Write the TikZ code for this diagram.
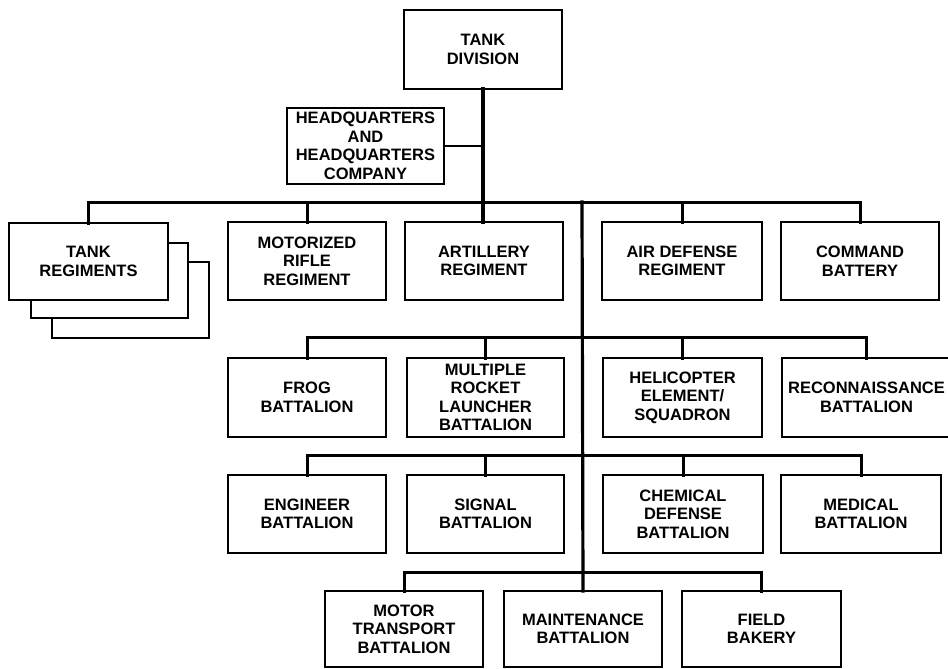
\documentclass[tikz,border=0pt]{standalone}
\usepackage{fontspec}
\setmainfont{Liberation Sans}
\begin{document}
\begin{tikzpicture}[x=1pt,y=-1pt,
  unit/.style={draw=black,line width=2.2pt,fill=white,inner sep=0pt,outer sep=0pt,
    align=center,font=\fontsize{16.5}{18.5}\selectfont\bfseries},
  link/.style={line width=3pt,line cap=rect},
  thin link/.style={line width=2.2pt}]
\useasboundingbox[fill=white] (0,0) rectangle (948,669);
\newcommand{\bx}[6]{\node[unit,minimum width={#4-#2},minimum height={#5-#3}] (#1) at ({(#2+#4)/2},{(#3+#5)/2}) {#6};}
% top
\bx{td}{404}{10}{562}{89}{TANK\\DIVISION}
\bx{hq}{287}{108}{444}{184}{HEADQUARTERS\\AND\\HEADQUARTERS\\COMPANY}
% level 1
\bx{tr3}{52}{262}{209}{338}{}
\bx{tr2}{31}{243}{188}{318}{}
\bx{tr}{9}{223}{168}{300}{TANK\\REGIMENTS}
\bx{mr}{228}{222}{386}{300}{MOTORIZED\\RIFLE\\REGIMENT}
\bx{ar}{405}{222}{563}{300}{ARTILLERY\\REGIMENT}
\bx{ad}{602}{222}{762}{300}{AIR DEFENSE\\REGIMENT}
\bx{cb}{781}{222}{939}{300}{COMMAND\\BATTERY}
% level 2
\bx{fr}{228}{358}{386}{437}{FROG\\BATTALION}
\bx{ml}{407}{358}{564}{437}{MULTIPLE\\ROCKET\\LAUNCHER\\BATTALION}
\bx{he}{603}{358}{762}{437}{HELICOPTER\\ELEMENT/\\SQUADRON}
\bx{re}{782}{358}{951}{437}{RECONNAISSANCE\\BATTALION}
% level 3
\bx{en}{228}{475}{386}{553}{ENGINEER\\BATTALION}
\bx{si}{407}{475}{564}{553}{SIGNAL\\BATTALION}
\bx{ch}{603}{475}{763}{553}{CHEMICAL\\DEFENSE\\BATTALION}
\bx{me}{781}{475}{941}{553}{MEDICAL\\BATTALION}
% level 4
\bx{mt}{325}{591}{483}{667}{MOTOR\\TRANSPORT\\BATTALION}
\bx{mb}{504}{591}{662}{667}{MAINTENANCE\\BATTALION}
\bx{fb}{682}{591}{841}{667}{FIELD\\BAKERY}
% bar levels
\coordinate (b1) at (0,202);
\coordinate (b2) at (0,337);
\coordinate (b3) at (0,455);
\coordinate (b4) at (0,572);
\coordinate (trunk) at (582,202);
% connectors
\draw[link,line width=3.6pt] (td.south) -- (td.south |- ar.north);
\draw[thin link] (hq.east) -- (hq.east -| td.south);
\draw[link] (tr.north) |- (b1 -| cb.north) -- (cb.north);
\draw[link] (mr.north) -- (mr.north |- b1);
\draw[link] (ad.north) -- (ad.north |- b1);
\draw[link,line width=3.2pt] (trunk) -- (mb.north);
\draw[link] (fr.north) |- (b2 -| re.north) -- (re.north);
\draw[link] (ml.north) -- (ml.north |- b2);
\draw[link] (he.north) -- (he.north |- b2);
\draw[link] (en.north) |- (b3 -| me.north) -- (me.north);
\draw[link] (si.north) -- (si.north |- b3);
\draw[link] (ch.north) -- (ch.north |- b3);
\draw[link] (mt.north) |- (b4 -| fb.north) -- (fb.north);
\end{tikzpicture}
\end{document}
